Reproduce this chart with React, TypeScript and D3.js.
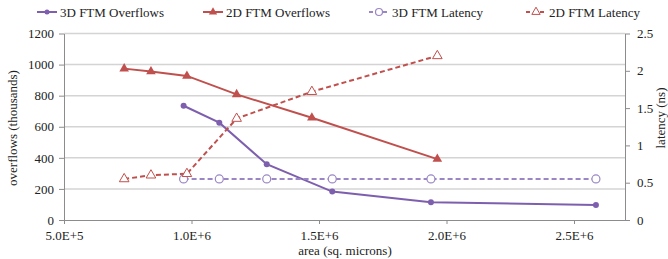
import React, { useRef, useEffect } from "react";
import * as d3 from "d3";

// areas (sq. microns)
const area2D = [736000, 841000, 982000, 1177000, 1472000, 1964000];
const area3D = [969000, 1109000, 1295000, 1552000, 1939000, 2586000];

// overflows (thousands)
const overflows3D = [735, 626, 359, 183, 114, 97];
const overflows2D = [974, 955, 927, 808, 658, 392];

// latency (ns)
const latency3D = [0.55, 0.55, 0.55, 0.55, 0.55, 0.55];
const latency2D = [0.55, 0.6, 0.62, 1.36, 1.72, 2.2];

const xTicks = [500000, 1000000, 1500000, 2000000, 2500000];
const yLeftTicks = [0, 200, 400, 600, 800, 1000, 1200];
const yRightTicks = [0, 0.5, 1, 1.5, 2, 2.5];

const legendNames = ["3D FTM Overflows", "2D FTM Overflows", "3D FTM Latency", "2D FTM Latency"];

const PURPLE = "#7e5fae";
const LAVENDER = "#9a86c4";
const RED = "#c0504d";
const FONT = "Liberation Serif";

function App() {
  const svgRef = useRef<SVGSVGElement>(null);

  useEffect(() => {
    const svg = d3.select(svgRef.current);
    svg.selectAll("*").remove();

    const left = 64, right = 625, top = 33.5, bottom = 220;

    const x = d3.scaleLinear().domain([500000, 2700000]).range([left, right]);
    const yL = d3.scaleLinear().domain([0, 1200]).range([bottom, top]);
    const yR = d3.scaleLinear().domain([0, 2.5]).range([bottom, top]);

    // gridlines
    svg.append("g")
      .selectAll("line")
      .data(yLeftTicks.slice(1))
      .join("line")
      .attr("x1", left)
      .attr("x2", right)
      .attr("y1", (d) => yL(d))
      .attr("y2", (d) => yL(d))
      .attr("stroke", "#d4d4d4")
      .attr("stroke-width", 1.5);

    const fmtX = (d: number) => d.toExponential(1).toUpperCase();

    const xAxis = svg.append("g")
      .attr("transform", `translate(0,${bottom})`)
      .call(d3.axisBottom(x).tickValues(xTicks).tickFormat((d) => fmtX(+d)).tickSize(4).tickSizeOuter(0));
    const yAxisL = svg.append("g")
      .attr("transform", `translate(${left},0)`)
      .call(d3.axisLeft(yL).tickValues(yLeftTicks).tickFormat((d) => String(d)).tickSize(5).tickSizeOuter(0));
    const yAxisR = svg.append("g")
      .attr("transform", `translate(${right},0)`)
      .call(d3.axisRight(yR).tickValues(yRightTicks).tickFormat((d) => String(d)).tickSize(5).tickSizeOuter(0));

    [xAxis, yAxisL, yAxisR].forEach((g) => {
      g.attr("font-family", FONT).attr("font-size", 13);
      g.select(".domain").attr("stroke", "#8c8c8c");
      g.selectAll(".tick line").attr("stroke", "#8c8c8c");
      g.selectAll(".tick text").attr("fill", "#222");
    });
    xAxis.selectAll(".tick text").attr("dy", "1em").attr("y", 7);
    yAxisL.selectAll(".tick text").attr("x", -10);
    yAxisR.selectAll(".tick text").attr("x", 12);

    const label = (t: string) =>
      svg.append("text")
        .attr("text-anchor", "middle")
        .attr("font-family", FONT)
        .attr("font-size", 13)
        .attr("fill", "#222")
        .text(t);

    // axis titles
    label("area (sq. microns)").attr("x", 345).attr("y", 255);
    label("overflows (thousands)").attr("transform", "translate(17,128) rotate(-90)");
    label("latency (ns)").attr("transform", "translate(665,118) rotate(-90)");

    const makeLine = (xs: number[], ys: number[], yScale: d3.ScaleLinear<number, number>) =>
      d3.line<number>()
        .x((d, i) => x(xs[i]))
        .y((d) => yScale(d))(ys);

    const series = [
      { xs: area3D, ys: overflows3D, scale: yL, color: PURPLE, dash: null, marker: "dot" },
      { xs: area2D, ys: overflows2D, scale: yL, color: RED, dash: null, marker: "tri" },
      { xs: area3D, ys: latency3D, scale: yR, color: LAVENDER, dash: "5,3", marker: "circle" },
      { xs: area2D, ys: latency2D, scale: yR, color: RED, dash: "5,3", marker: "opentri" },
    ];

    const triPath = d3.symbol().type(d3.symbolTriangle).size(40)();
    const triSmall = d3.symbol().type(d3.symbolTriangle).size(30)();

    const drawMarker = (g: any, kind: string, color: string, px: number, py: number, small: boolean) => {
      const tri = small ? triSmall : triPath;
      if (kind === "dot") {
        g.append("circle").attr("cx", px).attr("cy", py).attr("r", small ? 2.5 : 3).attr("fill", color);
      } else if (kind === "circle") {
        g.append("circle").attr("cx", px).attr("cy", py).attr("r", small ? 3.5 : 4)
          .attr("fill", "white").attr("stroke", color).attr("stroke-width", 1.2);
      } else if (kind === "tri") {
        g.append("path").attr("d", tri).attr("transform", `translate(${px},${py})`).attr("fill", color);
      } else {
        g.append("path").attr("d", tri).attr("transform", `translate(${px},${py})`)
          .attr("fill", "white").attr("stroke", color).attr("stroke-width", 1);
      }
    };

    series.forEach((s) => {
      svg.append("path")
        .attr("d", makeLine(s.xs, s.ys, s.scale))
        .attr("fill", "none")
        .attr("stroke", s.color)
        .attr("stroke-width", 2)
        .attr("stroke-dasharray", s.dash);

      const g = svg.append("g");
      s.ys.forEach((v, i) => drawMarker(g, s.marker, s.color, x(s.xs[i]), s.scale(v), false));
    });

    // legend
    const legendX = [37, 203, 369, 526];
    const ly = 12;
    series.forEach((s, i) => {
      const lx = legendX[i];
      const g = svg.append("g");
      g.append("line")
        .attr("x1", lx).attr("x2", lx + 20)
        .attr("y1", ly).attr("y2", ly)
        .attr("stroke", s.color).attr("stroke-width", 2)
        .attr("stroke-dasharray", s.dash ? "4,3" : null);
      drawMarker(g, s.marker, s.color, lx + 10, ly, true);
      g.append("text")
        .attr("x", lx + 23)
        .attr("y", ly + 4.5)
        .attr("font-family", FONT)
        .attr("font-size", 13)
        .attr("fill", "#222")
        .text(legendNames[i]);
    });
  }, []);

  return (
    <svg
      ref={svgRef}
      width={668}
      height={259}
      style={{ position: "absolute", left: 0, top: 0, background: "white" }}
    />
  );
}

export default App;
